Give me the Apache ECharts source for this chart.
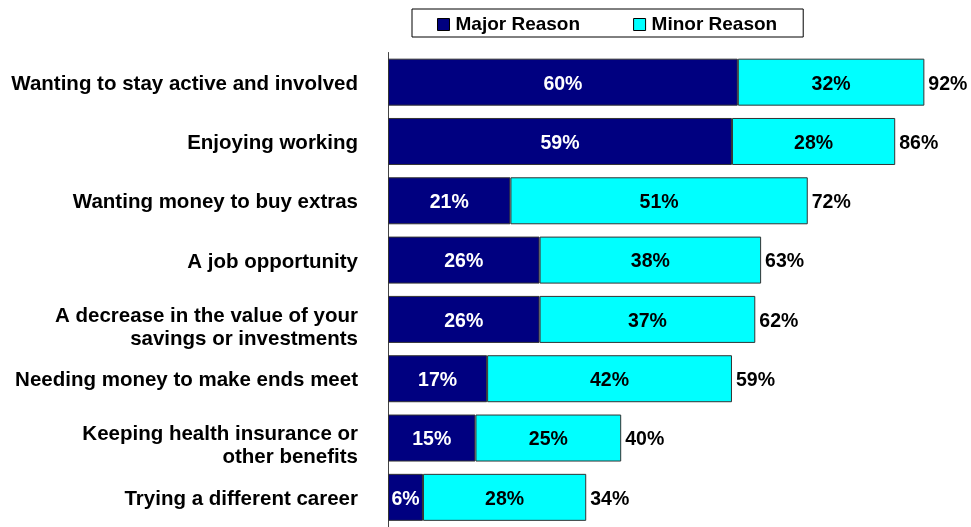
<!DOCTYPE html>
<html><head><meta charset="utf-8">
<script src="https://cdn.jsdelivr.net/npm/echarts@6/dist/echarts.min.js"></script>
<style>html,body{margin:0;padding:0;background:#fff}#c{width:971px;height:527px}</style>
</head><body><div id="c"></div>
<script>
const categories = [
  "Wanting to stay active and involved",
  "Enjoying working",
  "Wanting money to buy extras",
  "A job opportunity",
  "A decrease in the value of your\nsavings or investments",
  "Needing money to make ends meet",
  "Keeping health insurance or\nother benefits",
  "Trying a different career"
];
const majorReason = [60, 59, 21, 26, 26, 17, 15, 6];
const minorReason = [32, 28, 51, 38, 37, 42, 25, 28];
const totals = [92, 86, 72, 63, 62, 59, 40, 34];

const font = 'Arial, "Liberation Sans", sans-serif';
const labelFmt = v => {
  const lines = v.split('\n');
  const sp = lines.length > 1 ? '{sp2| }' : '{sp1| }';
  return sp + '\n' + lines.map(l => '{t|' + l + '}').join('\n');
};
const chart = echarts.init(document.getElementById('c'));
chart.setOption({
  animation: false,
  textStyle: { fontFamily: font },
  legend: {
    data: ['Major Reason', 'Minor Reason'],
    left: 412, top: 9,
    padding: [6, 26, 3, 25],
    itemGap: 53,
    borderColor: '#000', borderWidth: 1,
    itemWidth: 12, itemHeight: 12,
    icon: 'rect',
    itemStyle: { borderColor: '#000', borderWidth: 1 },
    textStyle: { fontFamily: font, fontWeight: 'bold', fontSize: 19, color: '#000', padding: [0, 0, 0, 1] }
  },
  grid: { left: 388, right: 0, top: 52.5, height: 480, containLabel: false },
  xAxis: { type: 'value', min: 0, max: 100, show: false },
  yAxis: {
    type: 'category', inverse: true, data: categories,
    axisLine: { show: true, lineStyle: { color: '#444', width: 1 } },
    axisTick: { show: false },
    axisLabel: {
      margin: 30, align: 'right', formatter: labelFmt,
      rich: {
        t: { fontFamily: font, fontWeight: 'bold', fontSize: 20.5, color: '#000', lineHeight: 23, align: 'right' },
        sp1: { fontSize: 2, lineHeight: 4, align: 'right' },
        sp2: { fontSize: 2, lineHeight: 16, align: 'right' }
      }
    }
  },
  series: [
    {
      name: 'Major Reason', type: 'bar', stack: 's', data: majorReason, barWidth: 47,
      itemStyle: { color: '#000080', borderColor: '#333', borderWidth: 1 },
      label: { show: true, position: 'inside', offset: [0, 2], formatter: '{c}%', color: '#fff', fontFamily: font, fontWeight: 'bold', fontSize: 19.5 }
    },
    {
      name: 'Minor Reason', type: 'bar', stack: 's', data: minorReason, barWidth: 47,
      itemStyle: { color: '#00FFFF', borderColor: '#333', borderWidth: 1 },
      label: { show: true, position: 'inside', offset: [0, 2], formatter: '{c}%', color: '#000', fontFamily: font, fontWeight: 'bold', fontSize: 19.5 }
    },
    {
      name: 'Total', type: 'bar', stack: 's', data: totals.map(() => 0), barWidth: 47,
      itemStyle: { color: 'transparent', borderWidth: 0 },
      label: { show: true, position: 'right', distance: 4, offset: [0, 2], formatter: p => totals[p.dataIndex] + '%', color: '#000', fontFamily: font, fontWeight: 'bold', fontSize: 19.5 }
    }
  ]
});
</script></body></html>
